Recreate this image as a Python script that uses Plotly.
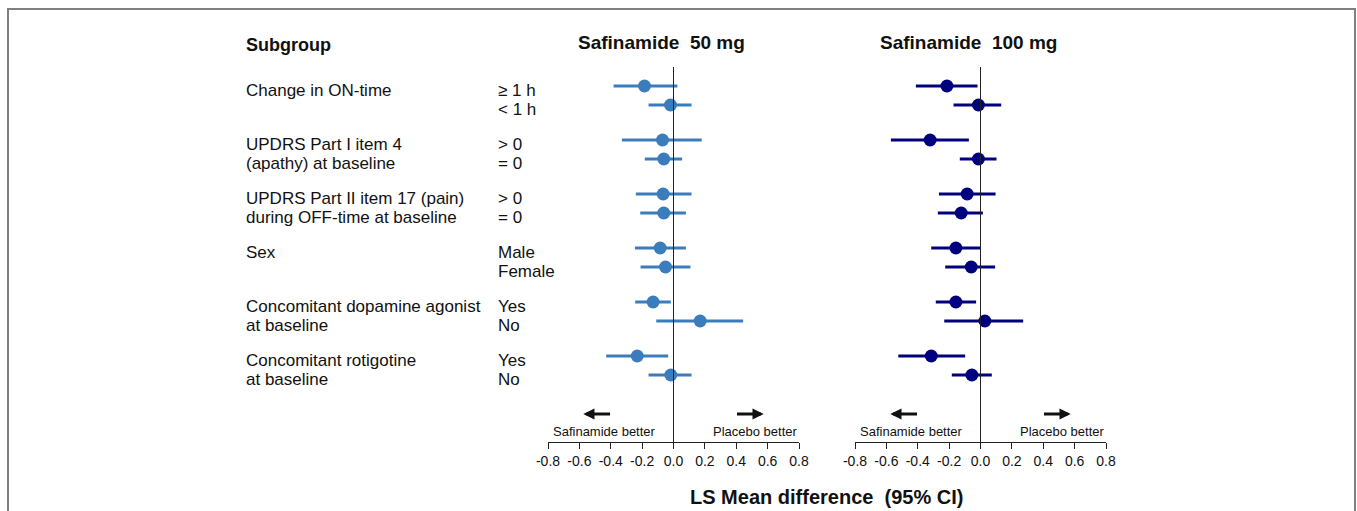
import plotly.graph_objects as go

# ---------------- data ----------------
groups = [
    ["Change in ON-time", ""],
    ["UPDRS Part I item 4", "(apathy) at baseline"],
    ["UPDRS Part II item 17 (pain)", "during OFF-time at baseline"],
    ["Sex", ""],
    ["Concomitant dopamine agonist", "at baseline"],
    ["Concomitant rotigotine", "at baseline"],
]
levels = ["\u2265 1 h", "< 1 h", "> 0", "= 0", "> 0", "= 0",
          "Male", "Female", "Yes", "No", "Yes", "No"]

est50 = [-0.185, -0.019, -0.070, -0.062, -0.066, -0.062, -0.085, -0.051, -0.130, 0.170, -0.231, -0.017]
lo50 = [-0.382, -0.159, -0.329, -0.183, -0.240, -0.212, -0.246, -0.210, -0.244, -0.110, -0.429, -0.159]
hi50 = [0.025, 0.115, 0.180, 0.055, 0.115, 0.079, 0.079, 0.108, -0.017, 0.444, -0.034, 0.115]

est100 = [-0.214, -0.013, -0.321, -0.013, -0.085, -0.123, -0.157, -0.059, -0.157, 0.028, -0.314, -0.055]
lo100 = [-0.412, -0.172, -0.571, -0.132, -0.265, -0.272, -0.314, -0.225, -0.285, -0.231, -0.524, -0.183]
hi100 = [-0.019, 0.132, -0.074, 0.102, 0.096, 0.015, 0.000, 0.093, -0.028, 0.272, -0.098, 0.072]

tick_vals = [-0.8, -0.6, -0.4, -0.2, 0.0, 0.2, 0.4, 0.6, 0.8]
tick_text = ["-0.8", "-0.6", "-0.4", "-0.2", "0.0", "0.2", "0.4", "0.6", "0.8"]

panel_titles = ["Safinamide  50 mg", "Safinamide  100 mg"]
x_title = "LS Mean difference  (95% CI)"

# ---------------- layout helpers ----------------
W, H = 1357, 511
FONT = "Liberation Sans, Arial, sans-serif"
C50 = "#3b7cbc"
C100 = "#00007f"

# row positions (pixel-like units on y axis)
row_y = []
for g in range(len(groups)):
    row_y += [86 + 54 * g, 105 + 54 * g]

def px(x):
    return x / W

def py(y):
    return 1 - y / H

fig = go.Figure()

for est, lo, hi, color, xa in [(est50, lo50, hi50, C50, "x"),
                               (est100, lo100, hi100, C100, "x2")]:
    fig.add_trace(go.Scatter(
        x=est, y=row_y, mode="markers", xaxis=xa, yaxis="y",
        marker=dict(size=13, color=color),
        error_x=dict(type="data", symmetric=False,
                     array=[h - e for h, e in zip(hi, est)],
                     arrayminus=[e - l for e, l in zip(est, lo)],
                     color=color, thickness=3, width=0),
        showlegend=False, hoverinfo="skip"))

axis_common = dict(range=[-0.8, 0.8], tickvals=tick_vals, ticktext=tick_text,
                   showgrid=False, zeroline=False, showline=True,
                   linecolor="#222", linewidth=1, ticks="outside",
                   ticklen=6, tickcolor="#222", tickwidth=1,
                   tickfont=dict(family=FONT, size=14, color="#111"),
                   automargin=False, fixedrange=True)

y_bottom = 442
fig.update_layout(
    width=W, height=H,
    margin=dict(l=0, r=0, t=0, b=0, pad=0, autoexpand=False),
    paper_bgcolor="white", plot_bgcolor="white",
    xaxis=dict(domain=[px(548), px(799)], anchor="y", **axis_common),
    xaxis2=dict(domain=[px(855), px(1106)], anchor="y", **axis_common),
    yaxis=dict(domain=[1 - y_bottom / H, 1], range=[y_bottom, 0],
               visible=False, automargin=False, fixedrange=True),
)

shapes = []
for xr in ["x", "x2"]:
    shapes.append(dict(type="line", xref=xr, yref="y", x0=0, x1=0,
                       y0=67, y1=y_bottom, line=dict(color="#222", width=1)))
# outer frame
shapes.append(dict(type="rect", xref="paper", yref="paper",
                   x0=px(8), x1=px(1355), y0=-0.2, y1=py(9),
                   line=dict(color="#808080", width=2)))
fig.update_layout(shapes=shapes)

ann = []
# Subgroup header
ann.append(dict(text="<b>Subgroup</b>", x=px(244), y=py(45), xref="paper", yref="paper",
                xanchor="left", yanchor="middle", showarrow=False,
                font=dict(family=FONT, size=18, color="#111")))
# group labels
for g, (l1, l2) in enumerate(groups):
    for r, t in enumerate([l1, l2]):
        if t:
            ann.append(dict(text=t, x=px(244), y=row_y[2 * g + r] + 4, xref="paper", yref="y",
                            xanchor="left", yanchor="middle", showarrow=False,
                            font=dict(family=FONT, size=17, color="#111")))
for i, t in enumerate(levels):
    ann.append(dict(text=t, x=px(496), y=row_y[i] + 4, xref="paper", yref="y",
                    xanchor="left", yanchor="middle", showarrow=False,
                    font=dict(family=FONT, size=17, color="#111")))
# panel titles
for t, xc in zip(panel_titles, [661, 968]):
    ann.append(dict(text="<b>" + t.replace("  ", "&nbsp; ") + "</b>", x=px(xc), y=py(42),
                    xref="paper", yref="paper", xanchor="center", yanchor="middle",
                    showarrow=False, font=dict(family=FONT, size=19, color="#111")))
# x title
ann.append(dict(text="<b>" + x_title.replace("  ", "&nbsp; ") + "</b>", x=px(826), y=py(497),
                xref="paper", yref="paper", xanchor="center", yanchor="middle",
                showarrow=False, font=dict(family=FONT, size=20, color="#111")))
# direction hints
for xr in ["x", "x2"]:
    ann.append(dict(text="Safinamide better", x=-0.44, y=431, xref=xr, yref="y",
                    xanchor="center", yanchor="middle", showarrow=False,
                    font=dict(family=FONT, size=13, color="#111")))
    ann.append(dict(text="Placebo better", x=0.52, y=431, xref=xr, yref="y",
                    xanchor="center", yanchor="middle", showarrow=False,
                    font=dict(family=FONT, size=13, color="#111")))
    ann.append(dict(text="", x=-0.575, y=414, ax=-0.395, ay=414, xref=xr, yref="y",
                    axref=xr, ayref="y", showarrow=True, arrowhead=2, arrowsize=0.8,
                    arrowwidth=2.8, arrowcolor="#111", standoff=0))
    ann.append(dict(text="", x=0.575, y=414, ax=0.395, ay=414, xref=xr, yref="y",
                    axref=xr, ayref="y", showarrow=True, arrowhead=2, arrowsize=0.8,
                    arrowwidth=2.8, arrowcolor="#111", standoff=0))
fig.update_layout(annotations=ann)

fig.write_html("out.html", config={"displayModeBar": False, "staticPlot": True},
               post_script="document.body.style.margin='0';document.body.style.overflow='hidden';")
